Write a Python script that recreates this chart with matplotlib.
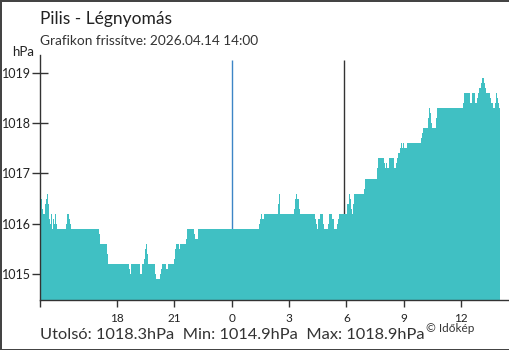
import matplotlib
matplotlib.use('Agg')
import matplotlib.pyplot as plt
import numpy as np

plt.rcParams['font.family'] = ['Lato', 'DejaVu Sans']

# minutes since 13 Apr 14:00
minutes = [0, 2, 5, 8, 15, 18, 21, 24, 27, 30, 34, 37, 40, 43, 46, 49, 52, 81, 84, 90,
           93, 96, 184, 188, 210, 213, 279, 282, 285, 313, 320, 326, 329, 332, 335, 338,
           360, 363, 376, 379, 382, 395, 401, 420, 423, 426, 436, 439, 458, 461, 483, 486,
           495, 687, 690, 693, 696, 700, 744, 747, 750, 753, 797, 800, 803, 806, 810, 813,
           860, 863, 866, 872, 876, 885, 888, 901, 904, 916, 920, 929, 932, 935, 963, 967,
           970, 973, 976, 979, 982, 1014, 1017, 1055, 1058, 1077, 1080, 1083, 1086, 1092,
           1108, 1114, 1118, 1121, 1127, 1130, 1133, 1136, 1140, 1149, 1193, 1196, 1199,
           1215, 1218, 1221, 1224, 1228, 1240, 1243, 1325, 1328, 1347, 1353, 1363, 1369,
           1372, 1375, 1382, 1385, 1391, 1394, 1397, 1410, 1413, 1419, 1426, 1429, 1432,
           1435, 1438]
pressure = [1016.6, 1016.5, 1016.3, 1016.2, 1016.4, 1016.5, 1016.6, 1016.4, 1016.1, 1016.0,
            1016.2, 1015.9, 1016.1, 1016.0, 1016.2, 1016.0, 1015.9, 1016.0, 1016.2, 1016.1,
            1016.0, 1015.9, 1015.8, 1015.6, 1015.4, 1015.2, 1015.1, 1015.0, 1015.2, 1015.0,
            1015.2, 1015.3, 1015.5, 1015.6, 1015.4, 1015.2, 1015.0, 1014.9, 1015.0, 1015.1,
            1015.2, 1015.1, 1015.2, 1015.3, 1015.5, 1015.6, 1015.5, 1015.6, 1015.7, 1015.9,
            1015.8, 1015.7, 1015.9, 1016.0, 1016.1, 1016.2, 1016.1, 1016.2, 1016.4, 1016.6,
            1016.3, 1016.2, 1016.3, 1016.5, 1016.6, 1016.5, 1016.3, 1016.2, 1016.1, 1016.0,
            1015.9, 1016.1, 1016.2, 1016.0, 1015.9, 1016.0, 1016.2, 1016.1, 1015.9, 1016.0,
            1016.1, 1016.2, 1016.4, 1016.6, 1016.5, 1016.3, 1016.2, 1016.4, 1016.6, 1016.7,
            1016.9, 1017.1, 1017.3, 1017.2, 1017.1, 1017.2, 1017.1, 1017.3, 1017.1, 1017.2,
            1017.3, 1017.4, 1017.5, 1017.6, 1017.5, 1017.6, 1017.5, 1017.6, 1017.7, 1017.8,
            1017.9, 1018.1, 1018.3, 1018.2, 1018.0, 1017.9, 1018.1, 1018.3, 1018.4, 1018.6,
            1018.4, 1018.6, 1018.4, 1018.5, 1018.6, 1018.7, 1018.8, 1018.9, 1018.8, 1018.7,
            1018.6, 1018.5, 1018.4, 1018.3, 1018.4, 1018.6, 1018.5, 1018.4, 1018.3]
end_minute = 1442
start_hour = -10  # 14:00 of previous day, relative to midnight

tick_hours = [-10, -6, -3, 0, 3, 6, 9, 12]
tick_labels = ['', '18', '21', '0', '3', '6', '9', '12']
y_ticks = [1015, 1016, 1017, 1018, 1019]
sunrise_hour = 5.89

title = 'Pilis - Légnyomás'
subtitle = 'Grafikon frissítve: 2026.04.14 14:00'
last_val, min_val, max_val = 1018.3, 1014.9, 1018.9

W, H = 510, 350
fig = plt.figure(figsize=(W / 100, H / 100), dpi=100)
fig.patch.set_facecolor('white')
fig.patch.set_edgecolor('#444444')
fig.patch.set_linewidth(2)

ax = fig.add_axes([40.3 / W, 50 / H, 467.7 / W, 245 / H])
ymin, ymax = 1014.48, 1019.36
ax.set_xlim(-10, 14.44)
ax.set_ylim(ymin, ymax)

t = np.array(minutes + [end_minute]) / 60.0 + start_hour
v = np.array(pressure + [pressure[-1]])
ax.fill_between(t, v, ymin, step='post', color='#40c0c3', lw=0, zorder=3)

ax.vlines(0, ymin, 1019.26, color='#3d85c6', lw=1, zorder=2)
ax.vlines(sunrise_hour, ymin, 1019.26, color='#333333', lw=1, zorder=2)

for s in ['top', 'right']:
    ax.spines[s].set_visible(False)
for s in ['left', 'bottom']:
    ax.spines[s].set_color('#333333')
    ax.spines[s].set_linewidth(1)
    ax.spines[s].set_zorder(5)

ax.set_yticks(y_ticks)
ax.set_yticklabels([str(y) for y in y_ticks])
ax.tick_params(axis='y', direction='inout', length=12, width=1, color='#333333',
               labelsize=9, labelcolor='#222222', pad=1)
ax.set_xticks(tick_hours)
ax.set_xticklabels(tick_labels)
ax.tick_params(axis='x', direction='out', length=5, width=1, color='#333333',
               labelsize=8.5, labelcolor='#222222', pad=4)
for tk, h in zip(ax.xaxis.get_major_ticks(), tick_hours):
    if h == 0:
        tk.tick1line.set_color('#3d85c6')

fig.text(40 / W, 1 - 24 / H, title, fontsize=12.5, color='#222222', va='baseline')
fig.text(40 / W, 1 - 45 / H, subtitle, fontsize=9.8, color='#333333', va='baseline')
fig.text(12 / W, 1 - 56 / H, 'hPa', fontsize=9.5, color='#222222', va='baseline')
fig.text(40 / W, 1 - 339 / H,
         f'Utolsó: {last_val}hPa  Min: {min_val}hPa  Max: {max_val}hPa',
         fontsize=11.8, color='#333333', va='baseline')
fig.text(426 / W, 1 - 332 / H, '© Időkép', fontsize=8.5, color='#333333', va='baseline')

fig.savefig('out.png', dpi=100)
